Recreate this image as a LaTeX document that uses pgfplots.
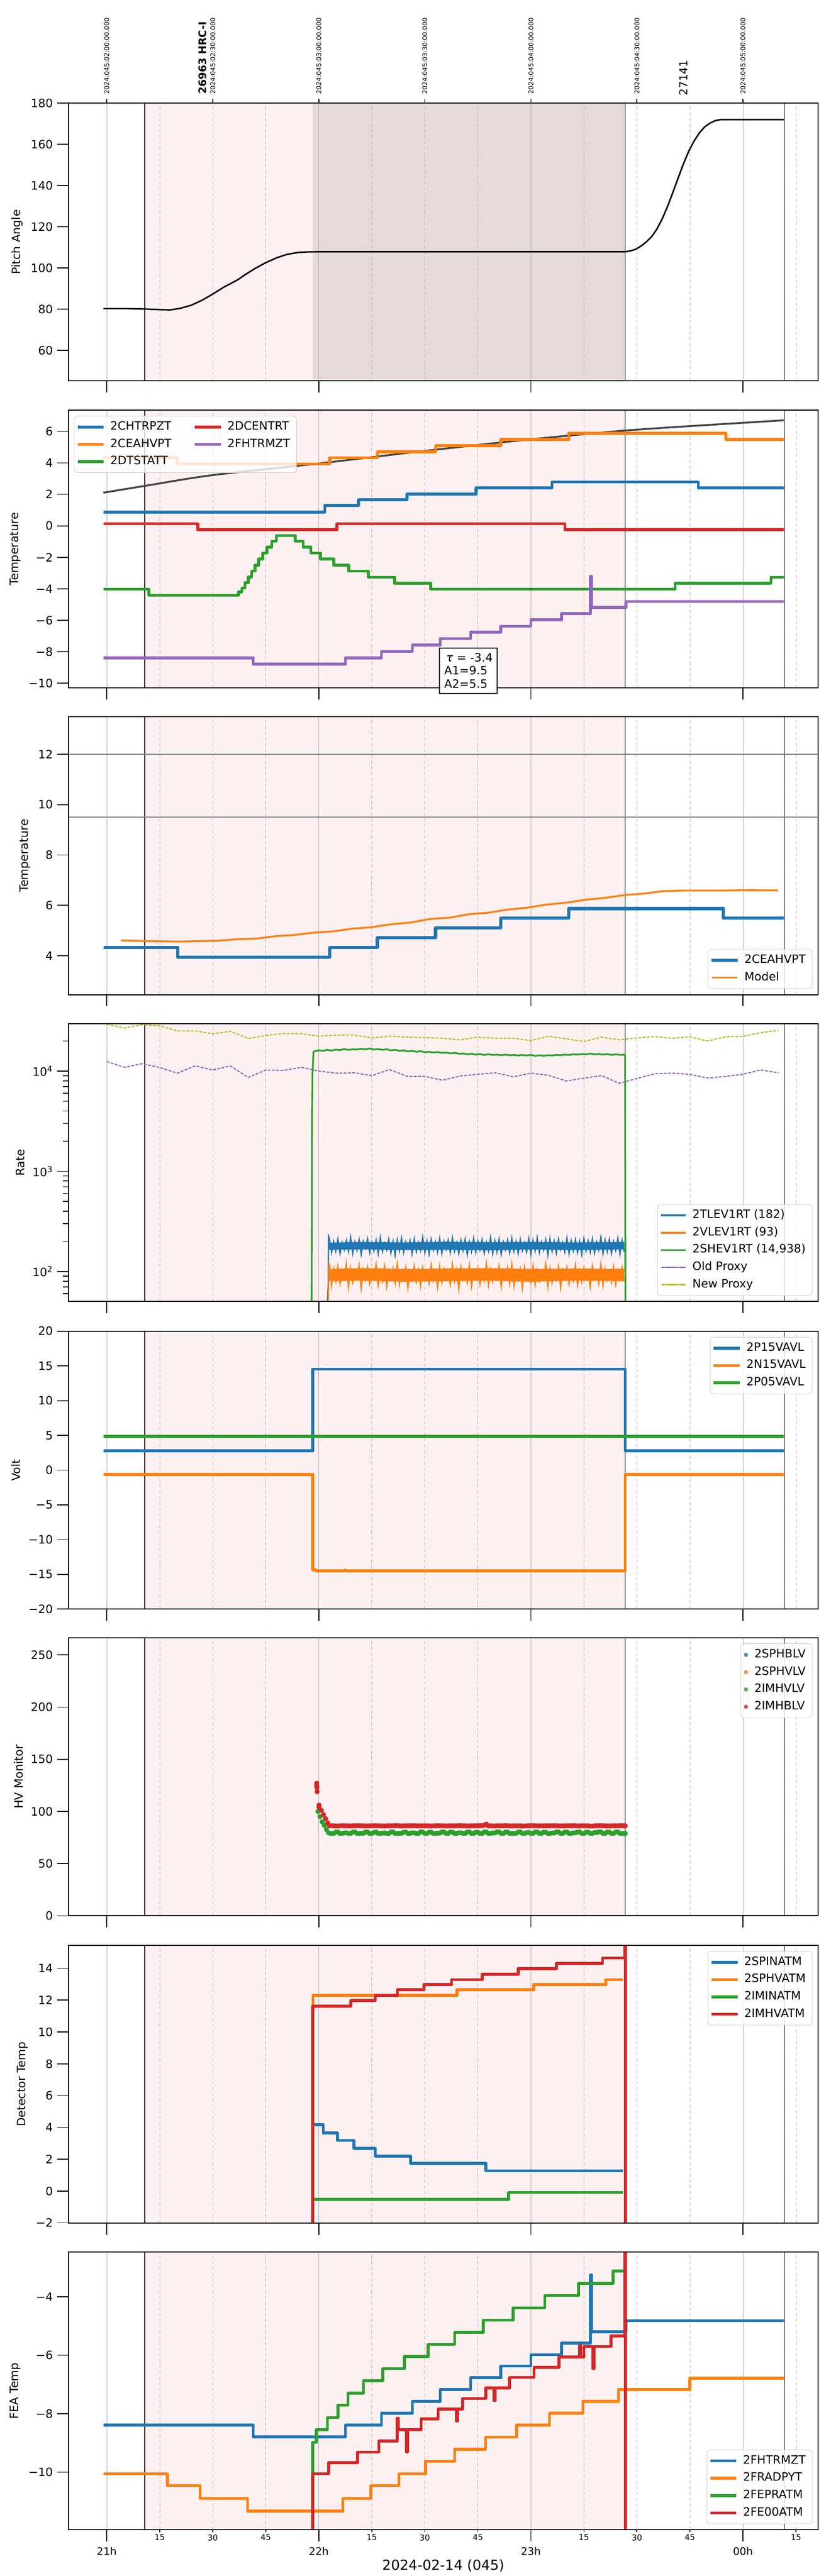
\documentclass[border=0pt]{standalone}
\usepackage{fontspec}
\setmainfont{DejaVu Sans}
\usepackage{pgfplots}
\usepackage{pgfplotstable}
\pgfplotsset{compat=1.18}
\definecolor{tabblue}{HTML}{1F77B4}
\definecolor{taborange}{HTML}{FF7F0E}
\definecolor{tabgreen}{HTML}{2CA02C}
\definecolor{tabred}{HTML}{D62728}
\definecolor{tabpurple}{HTML}{9467BD}
\definecolor{tabolive}{HTML}{BCBD22}
\definecolor{pinkbg}{RGB}{253,240,240}
\definecolor{darkbg}{RGB}{229,217,217}
\definecolor{gridc}{RGB}{176,176,176}
\definecolor{modelgray}{RGB}{68,68,68}

\newcommand{\deco}[3]{%
 \fill[pinkbg] (axis cs:0.179,#1) rectangle (axis cs:2.445,#2);
 #3
 \pgfplotsinvokeforeach{0,1,2,3}{\draw[gridc, line width=0.4pt] (axis cs:##1,#1) -- (axis cs:##1,#2);}
 \pgfplotsinvokeforeach{0.25,0.5,0.75,1.25,1.5,1.75,2.25,2.5,2.75,3.25}{\draw[gridc, line width=0.4pt, dash pattern=on 3pt off 2pt] (axis cs:##1,#1) -- (axis cs:##1,#2);}
 \pgfplotsinvokeforeach{0.179,2.445,3.195}{\draw[black, line width=0.7pt] (axis cs:##1,#1) -- (axis cs:##1,#2);}
}

\pgfplotsset{
 panel/.style={
  scale only axis, width=649.4pt, height=240.8pt, anchor=north west,
  xmin=-0.18, xmax=3.354,
  xtick={0,1,2,3}, xticklabels={},
  tick align=outside, xtick pos=bottom, ytick pos=left,
  major tick length=10pt, minor tick length=5pt,
  tick style={black, line width=0.75pt},
  axis line style={black, line width=0.9pt},
  tick label style={font=\fontsize{10}{12}\selectfont},
  ylabel style={font=\fontsize{10}{12}\selectfont},
  /pgf/number format/assume math mode=true,
  clip mode=individual, axis on top,
  legend cell align=left,
  legend image code/.code={\draw[##1, line cap=rect] (0pt,0pt) -- (20pt,0pt);},
  legend style={draw=black!20, rounded corners=2.5pt, fill=white, fill opacity=0.8, text opacity=1, draw opacity=1,
   font=\fontsize{10}{12}\selectfont, inner xsep=3pt, inner ysep=2pt,
   nodes={inner sep=2.5pt, text height=0.75em, text depth=0.25em},
   /tikz/every odd column/.append style={column sep=3.3pt}},
 },
 stepline/.style={const plot, line join=round, line width=2.5pt},
}
\tikzset{toplab/.style={rotate=90, anchor=west, inner sep=0pt, font=\fontsize{5.6}{6}\selectfont}}

\pgfplotstableread{
x b o
1.05 215 118
1.06 155 72
1.07 200 105
1.08 160 80
1.09 210 112
1.10 150 75
1.11 195 100
1.12 165 85
1.13 205 120
1.14 158 70
1.15 220 108
1.16 152 78
1.17 198 98
1.18 162 88
1.19 208 115
1.20 148 68
1.21 200 104
1.22 170 82
1.23 212 110
1.24 155 76
1.25 196 96
1.26 160 86
1.27 205 117
1.28 150 73
1.29 218 102
1.30 158 80
1.31 192 113
1.32 165 71
1.33 210 99
1.34 152 84
1.35 200 107
1.36 145 77
1.37 207 119
1.38 160 74
1.39 215 101
1.40 155 87
1.41 198 111
1.42 168 69
1.43 204 97
1.44 150 83
1.45 211 114
1.46 157 79
1.47 195 103
1.48 162 72
1.49 220 109
1.50 153 85
1.51 202 95
1.52 149 76
1.53 209 116
1.54 163 81
1.55 197 100
1.56 156 70
1.57 213 112
1.58 151 78
1.59 200 106
1.60 166 88
1.61 206 98
1.62 154 74
1.63 217 118
1.64 159 80
1.65 193 104
1.66 150 67
1.67 205 110
1.68 162 83
1.69 210 96
1.70 147 77
1.71 199 115
1.72 158 71
1.73 214 102
1.74 155 86
1.75 201 108
1.76 164 75
1.77 208 99
1.78 152 81
1.79 196 120
1.80 160 73
1.81 219 105
1.82 150 79
1.83 203 97
1.84 157 84
1.85 211 113
1.86 148 70
1.87 198 101
1.88 165 87
1.89 206 109
1.90 153 76
1.91 215 117
1.92 159 72
1.93 200 98
1.94 151 82
1.95 209 106
1.96 162 68
1.97 194 111
1.98 156 85
1.99 212 100
2.00 149 78
2.01 204 114
2.02 160 74
2.03 218 103
2.04 155 80
2.05 197 96
2.06 163 88
2.07 207 119
2.08 146 71
2.09 213 107
2.10 158 77
2.11 201 99
2.12 152 83
2.13 210 112
2.14 165 69
2.15 195 104
2.16 157 86
2.17 216 110
2.18 150 75
2.19 203 97
2.20 161 81
2.21 208 116
2.22 154 73
2.23 199 102
2.24 148 79
2.25 214 108
2.26 160 84
2.27 202 95
2.28 156 70
2.29 211 113
2.30 153 87
2.31 197 100
2.32 164 76
2.33 220 118
2.34 150 72
2.35 205 105
2.36 158 82
2.37 209 98
2.38 152 78
2.39 200 111
2.40 162 74
2.41 215 103
2.42 149 85
2.43 204 109
2.44 157 80
}\noisetab

\pgfplotstableread{
x r g
1.05 86.2 79.2
1.06 86.3 78.9
1.07 86.2 78.9
1.08 86.1 80.2
1.09 86.0 80.3
1.10 86.2 78.9
1.11 86.3 78.9
1.12 86.2 79.4
1.13 86.2 79.6
1.14 86.1 78.9
1.15 86.1 78.9
1.16 86.2 80.1
1.17 86.2 80.3
1.18 86.3 78.9
1.19 86.3 78.9
1.20 86.2 79.0
1.21 86.2 79.0
1.22 86.1 80.3
1.23 86.1 80.2
1.24 86.2 78.9
1.25 86.2 78.9
1.26 86.3 79.8
1.27 86.3 80.3
1.28 86.2 78.9
1.29 86.2 78.9
1.30 86.1 79.2
1.31 86.0 79.4
1.32 86.2 78.9
1.33 86.2 78.9
1.34 86.2 80.2
1.35 86.2 80.3
1.36 86.3 78.9
1.37 86.3 78.9
1.38 86.2 79.0
1.39 86.1 79.0
1.40 86.2 80.1
1.41 86.2 80.2
1.42 86.2 78.9
1.43 86.2 78.9
1.44 86.3 79.5
1.45 86.3 79.5
1.46 86.2 78.9
1.47 86.1 78.9
1.48 86.2 80.3
1.49 86.2 80.3
1.50 86.2 78.9
1.51 86.2 78.9
1.52 86.1 80.0
1.53 86.0 80.1
1.54 86.2 78.9
1.55 86.2 78.9
1.56 86.3 79.2
1.57 86.3 79.2
1.58 86.2 80.3
1.59 86.2 80.3
1.60 86.1 78.9
1.61 86.1 78.9
1.62 86.2 80.2
1.63 86.2 80.2
1.64 86.2 78.9
1.65 86.2 78.9
1.66 86.3 79.6
1.67 86.3 79.6
1.68 86.2 78.9
1.69 86.2 78.9
1.70 86.1 80.3
1.71 86.1 80.3
1.72 86.2 78.9
1.73 86.2 78.9
1.74 86.2 80.0
1.75 86.2 80.0
1.76 86.3 78.9
1.77 86.3 78.9
1.78 86.8 80.3
1.79 87.8 80.3
1.80 86.2 78.9
1.81 86.2 78.9
1.82 86.1 79.4
1.83 86.1 79.4
1.84 86.2 80.3
1.85 86.2 80.3
1.86 86.2 78.9
1.87 86.2 78.9
1.88 86.3 80.2
1.89 86.3 80.2
1.90 86.1 78.9
1.91 86.1 78.9
1.92 86.2 79.0
1.93 86.2 79.0
1.94 86.2 80.3
1.95 86.2 80.3
1.96 86.0 78.9
1.97 86.0 78.9
1.98 86.2 79.7
1.99 86.2 79.7
2.00 86.3 78.9
2.01 86.3 78.9
2.02 86.2 80.3
2.03 86.2 80.3
2.04 86.1 78.9
2.05 86.1 78.9
2.06 86.2 80.1
2.07 86.2 80.1
2.08 86.2 78.9
2.09 86.2 78.9
2.10 86.3 79.3
2.11 86.3 79.3
2.12 86.2 80.3
2.13 86.2 80.3
2.14 86.1 78.9
2.15 86.1 78.9
2.16 86.2 80.2
2.17 86.2 80.2
2.18 86.2 78.9
2.19 86.2 78.9
2.20 86.3 79.5
2.21 86.3 79.5
2.22 86.1 80.3
2.23 86.1 80.3
2.24 86.2 78.9
2.25 86.2 78.9
2.26 86.2 80.1
2.27 86.2 80.1
2.28 86.0 78.9
2.29 86.0 78.9
2.30 86.2 79.8
2.31 86.2 79.8
2.32 86.3 80.3
2.33 86.3 80.3
2.34 86.2 78.9
2.35 86.2 78.9
2.36 86.1 80.2
2.37 86.1 80.2
2.38 86.2 78.9
2.39 86.2 78.9
2.40 86.2 80.3
2.41 86.2 80.3
2.42 86.3 78.9
2.43 86.3 78.9
2.44 86.2 78.9
2.445 86.2 78.9
}\hvtab

\begin{document}
\begin{tikzpicture}
\path[use as bounding box] (0,0) rectangle (720pt,-2232pt);

% ---------------- Panel 1: Pitch
\begin{axis}[panel, at={(59.4pt,-89.3pt)}, ymin=45.2, ymax=180,
  ytick={60,80,100,120,140,160,180}, ylabel={Pitch Angle}]
\deco{45.2}{180}{\fill[darkbg] (axis cs:0.971,45.2) rectangle (axis cs:2.445,180);}
\addplot[black, line width=1.3pt, line join=round] coordinates {(-0.016,80.3)(0.10,80.3)(0.18,80.1)(0.25,79.8)(0.30,79.7)(0.346,80.4)(0.40,82.0)(0.45,84.4)(0.496,87.1)(0.55,90.6)(0.60,93.3)(0.621,94.5)(0.65,96.6)(0.70,99.8)(0.746,102.4)(0.80,104.9)(0.85,106.6)(0.90,107.5)(0.95,107.8)(1.00,107.9)(2.445,107.9)(2.47,108.3)(2.495,109.1)(2.52,110.7)(2.545,112.7)(2.57,115.3)(2.595,119.0)(2.62,124.0)(2.645,130.0)(2.67,136.8)(2.695,143.8)(2.72,150.7)(2.745,156.8)(2.77,161.7)(2.795,165.6)(2.82,168.5)(2.845,170.3)(2.87,171.5)(2.895,172.0)(3.195,172.0)};
\pgfplotsinvokeforeach{0,0.5,1,1.5,2,2.5,3}{\draw[black, line width=0.75pt] (axis cs:#1,180) -- ++(0pt,3.4pt);}
\node[toplab] at ([yshift=7.5pt]axis cs:0,180) {2024:045:02:00:00.000};
\node[toplab] at ([yshift=7.5pt]axis cs:0.5,180) {2024:045:02:30:00.000};
\node[toplab] at ([yshift=7.5pt]axis cs:1,180) {2024:045:03:00:00.000};
\node[toplab] at ([yshift=7.5pt]axis cs:1.5,180) {2024:045:03:30:00.000};
\node[toplab] at ([yshift=7.5pt]axis cs:2,180) {2024:045:04:00:00.000};
\node[toplab] at ([yshift=7.5pt]axis cs:2.5,180) {2024:045:04:30:00.000};
\node[toplab] at ([yshift=7.5pt]axis cs:3,180) {2024:045:05:00:00.000};
\node[rotate=90, anchor=west, inner sep=0pt, font=\bfseries\fontsize{9}{10}\selectfont] at ([yshift=7.5pt]axis cs:0.451,180) {26963 HRC-I};
\node[rotate=90, anchor=west, inner sep=0pt, font=\fontsize{9.5}{10}\selectfont] at ([yshift=6.5pt]axis cs:2.72,180) {27141};
\end{axis}

% ---------------- Panel 2: Temperature
\begin{axis}[panel, at={(59.4pt,-355.3pt)}, ymin=-10.3, ymax=7.36,
  ytick={-10,-8,-6,-4,-2,0,2,4,6}, yticklabels={−10,−8,−6,−4,−2,0,2,4,6},
  ylabel={Temperature}, legend columns=2,
  legend style={at={(0,1)}, anchor=north west, xshift=4.7pt, yshift=-5pt,
   /tikz/every even column/.append style={column sep=17.7pt}}]
\deco{-10.3}{7.36}{}
\addplot[modelgray, line width=1.6pt, smooth, forget plot] coordinates {(-0.016,2.11)(0.179,2.54)(0.496,3.22)(0.996,3.96)(1.496,4.76)(2.0,5.50)(2.495,6.11)(3.195,6.71)};
\addplot[tabblue, stepline, forget plot] coordinates {(-0.016,0.88)(1.028,1.31)(1.188,1.66)(1.416,2.03)(1.741,2.41)(2.100,2.79)(2.790,2.41)(3.195,2.41)};
\addplot[taborange, stepline, forget plot] coordinates {(-0.016,4.33)(0.334,3.94)(1.051,4.33)(1.276,4.70)(1.551,5.10)(1.858,5.49)(2.178,5.89)(2.920,5.49)(3.195,5.49)};
\addplot[tabgreen, stepline, forget plot] coordinates {(-0.016,-4.02)(0.199,-4.41)(0.621,-4.2)(0.637,-3.95)(0.652,-3.6)(0.667,-3.25)(0.683,-2.87)(0.699,-2.5)(0.716,-2.11)(0.735,-1.73)(0.755,-1.35)(0.778,-0.98)(0.800,-0.61)(0.888,-0.98)(0.926,-1.35)(0.963,-1.73)(1.008,-2.11)(1.071,-2.50)(1.141,-2.87)(1.233,-3.26)(1.358,-3.64)(1.528,-4.02)(2.680,-3.64)(3.132,-3.26)(3.195,-3.26)};
\addplot[tabred, stepline, forget plot] coordinates {(-0.016,0.14)(0.429,-0.24)(1.086,0.14)(2.160,-0.24)(3.195,-0.24)};
\addplot[tabpurple, stepline, forget plot] coordinates {(-0.016,-8.39)(0.691,-8.79)(1.126,-8.39)(1.296,-7.98)(1.441,-7.58)(1.573,-7.16)(1.716,-6.76)(1.858,-6.37)(2.000,-5.97)(2.145,-5.58)(2.280,-3.2)(2.287,-5.19)(2.449,-4.81)(3.195,-4.81)};
\addlegendimage{tabblue, line width=2.5pt}\addlegendentry{2CHTRPZT}
\addlegendimage{tabred, line width=2.5pt}\addlegendentry{2DCENTRT}
\addlegendimage{taborange, line width=2.5pt}\addlegendentry{2CEAHVPT}
\addlegendimage{tabpurple, line width=2.5pt}\addlegendentry{2FHTRMZT}
\addlegendimage{tabgreen, line width=2.5pt}\addlegendentry{2DTSTATT}
\coordinate (tbox) at (axis cs:1.567,-7.72);
\end{axis}
\node[draw, line width=1pt, fill=white, anchor=north west, align=left, inner xsep=4pt, inner ysep=4.5pt,
  font=\fontsize{10}{11.4}\selectfont] at (tbox) {\,\textit{τ} = -3.4\\A1=9.5\\A2=5.5};

% ---------------- Panel 3: Temperature (model)
\begin{axis}[panel, at={(59.4pt,-621.0pt)}, ymin=2.45, ymax=13.49,
  ytick={4,6,8,10,12}, ylabel={Temperature},
  legend style={at={(1,0)}, anchor=south east, xshift=-5pt, yshift=5pt}]
\deco{2.45}{13.49}{}
\draw[gray, line width=0.9pt] (axis cs:-0.18,12) -- (axis cs:3.354,12);
\draw[gray, line width=0.9pt] (axis cs:-0.18,9.5) -- (axis cs:3.354,9.5);
\addplot[tabblue, const plot, line join=round, line width=2.8pt] coordinates {(-0.016,4.33)(0.334,3.94)(1.051,4.33)(1.276,4.72)(1.551,5.10)(1.858,5.49)(2.178,5.87)(2.908,5.49)(3.195,5.49)};
\addlegendentry{2CEAHVPT}
\addplot[taborange, line width=1.6pt, line join=round] coordinates {(0.066,4.606)(0.184,4.575)(0.346,4.559)(0.521,4.591)(0.608,4.646)(0.708,4.677)(0.796,4.772)(0.883,4.819)(0.983,4.921)(1.066,4.961)(1.158,5.071)(1.246,5.126)(1.346,5.252)(1.433,5.315)(1.521,5.449)(1.621,5.512)(1.708,5.646)(1.796,5.701)(1.890,5.827)(1.983,5.906)(2.071,6.024)(2.165,6.102)(2.258,6.220)(2.345,6.291)(2.445,6.409)(2.533,6.465)(2.620,6.559)(2.720,6.583)(2.895,6.583)(2.995,6.598)(3.165,6.591)};
\addlegendentry{Model}
\end{axis}

% ---------------- Panel 4: Rate
\begin{axis}[panel, at={(59.4pt,-887.0pt)}, ymode=log, ymin=50, ymax=29700,
  ytick={100,1000,10000}, yticklabels={10\textsuperscript{2},10\textsuperscript{3},10\textsuperscript{4}},
  minor ytick={60,70,80,90,200,300,400,500,600,700,800,900,2000,3000,4000,5000,6000,7000,8000,9000,20000},
  ylabel={Rate},
  legend style={at={(1,0)}, anchor=south east, xshift=-5pt, yshift=5pt}]
\deco{50}{29700}{}
\addlegendimage{tabblue, line width=1.6pt}\addlegendentry{2TLEV1RT (182)}
\addlegendimage{taborange, line width=1.6pt}\addlegendentry{2VLEV1RT (93)}
\addlegendimage{tabgreen, line width=1.6pt}\addlegendentry{2SHEV1RT (14,938)}
\addplot[tabblue, line width=1.1pt, forget plot] coordinates {(1.040,40)(1.042,60)(1.044,70)(1.046,226)(1.05,215)};
\addplot[fill=tabblue, draw=none, forget plot] coordinates {(1.047,168)(1.05,194)(1.20,197)(1.40,195)(1.60,198)(1.80,196)(2.00,197)(2.20,195)(2.44,197)(2.44,166)(2.20,164)(2.00,166)(1.80,163)(1.60,165)(1.40,164)(1.20,166)(1.05,165)} -- cycle;
\addplot[tabblue, line width=1.1pt, forget plot] table[x=x, y=b] {\noisetab};
\addplot[taborange, line width=1.1pt, forget plot] coordinates {(1.044,40)(1.046,80)(1.048,120)(1.05,118)};
\addplot[fill=taborange, draw=none, forget plot] coordinates {(1.049,80)(1.05,106)(1.20,108)(1.40,106)(1.60,107)(1.80,108)(2.00,106)(2.20,107)(2.44,106)(2.44,80)(2.20,81)(2.00,79)(1.80,81)(1.60,80)(1.40,79)(1.20,81)(1.05,80)} -- cycle;
\addplot[taborange, line width=1.1pt, forget plot] table[x=x, y=o] {\noisetab};
\addplot[tabgreen, line width=1.5pt, line join=round, forget plot] coordinates {(0.966,40)(0.968,3000)(0.970,9000)(0.975,15500)(0.98,15800)(1.00,16100)(1.02,15900)(1.04,16300)(1.06,16000)(1.08,16400)(1.10,16200)(1.12,16600)(1.14,16300)(1.16,16500)(1.18,16400)(1.20,16700)(1.22,16500)(1.24,16800)(1.26,16400)(1.28,16600)(1.30,16300)(1.32,16500)(1.34,16100)(1.36,16300)(1.38,15900)(1.40,16100)(1.42,15700)(1.44,15900)(1.46,15600)(1.48,15800)(1.50,15400)(1.52,15600)(1.54,15300)(1.56,15500)(1.58,15200)(1.60,15300)(1.62,15000)(1.64,15200)(1.66,14900)(1.68,15000)(1.70,14700)(1.72,14900)(1.74,14600)(1.76,14800)(1.78,14500)(1.80,14700)(1.82,14500)(1.84,14600)(1.86,14400)(1.88,14600)(1.90,14400)(1.92,14500)(1.94,14300)(1.96,14500)(1.98,14300)(2.00,14500)(2.02,14200)(2.04,14400)(2.06,14200)(2.08,14400)(2.10,14300)(2.12,14500)(2.14,14400)(2.16,14600)(2.18,14500)(2.20,14700)(2.22,14600)(2.24,14800)(2.26,14700)(2.28,14900)(2.30,14700)(2.32,14800)(2.34,14600)(2.36,14800)(2.38,14500)(2.40,14700)(2.42,14500)(2.44,14600)(2.444,14500)(2.446,40)};
\addplot[tabpurple, line width=1pt, dash pattern=on 2.5pt off 1.2pt] coordinates {(0.000,12450)(0.083,10900)(0.167,11860)(0.250,10860)(0.333,9530)(0.417,11300)(0.500,10250)(0.583,11250)(0.667,8650)(0.750,10250)(0.833,10140)(0.917,10900)(1.000,10000)(1.083,9530)(1.167,9620)(1.250,9000)(1.333,10350)(1.417,8850)(1.500,8850)(1.583,8110)(1.667,8930)(1.750,9290)(1.833,9620)(1.917,8770)(2.000,9530)(2.083,9080)(2.167,7960)(2.250,8510)(2.333,9000)(2.417,7550)(2.500,8430)(2.583,9400)(2.667,9530)(2.750,9290)(2.833,8510)(2.917,8850)(3.000,9290)(3.083,10250)(3.167,9620)};
\addlegendentry{Old Proxy}
\addplot[tabolive, line width=1pt, dash pattern=on 2.5pt off 1.2pt] coordinates {(0.000,29400)(0.083,26900)(0.167,29100)(0.250,28250)(0.333,25150)(0.417,25150)(0.500,23600)(0.583,24950)(0.667,21150)(0.750,22600)(0.833,23750)(0.917,23600)(1.000,22300)(1.083,22850)(1.167,22850)(1.250,21450)(1.333,22300)(1.417,21800)(1.500,21550)(1.583,21250)(1.667,20500)(1.750,21800)(1.833,21250)(1.917,21250)(2.000,20150)(2.083,22300)(2.167,20950)(2.250,19730)(2.333,21800)(2.417,20500)(2.500,21450)(2.583,22100)(2.667,21250)(2.750,22000)(2.833,19950)(2.917,22000)(3.000,22200)(3.083,24200)(3.167,25400)};
\addlegendentry{New Proxy}
\end{axis}

% ---------------- Panel 5: Volt
\begin{axis}[panel, at={(59.4pt,-1153.4pt)}, ymin=-20, ymax=20,
  ytick={-20,-15,-10,-5,0,5,10,15,20}, yticklabels={−20,−15,−10,−5,0,5,10,15,20},
  ylabel={Volt},
  legend style={at={(1,1)}, anchor=north east, xshift=-5pt, yshift=-5pt}]
\deco{-20}{20}{}
\addplot[tabblue, stepline] coordinates {(-0.016,2.77)(0.971,14.54)(2.445,2.77)(3.195,2.77)};
\addlegendentry{2P15VAVL}
\addplot[taborange, stepline] coordinates {(-0.016,-0.64)(0.971,-14.35)(0.985,-14.5)(1.12,-14.4)(1.125,-14.5)(2.445,-0.64)(3.195,-0.64)};
\addlegendentry{2N15VAVL}
\addplot[tabgreen, stepline] coordinates {(-0.016,4.85)(3.195,4.85)};
\addlegendentry{2P05VAVL}
\end{axis}

% ---------------- Panel 6: HV Monitor
\begin{axis}[panel, at={(59.4pt,-1419.1pt)}, ymin=0, ymax=266.4,
  ytick={0,50,100,150,200,250}, ylabel={HV Monitor},
  legend image code/.code={\draw[#1] plot coordinates {(8pt,0pt)};},
  legend style={at={(1,1)}, anchor=north east, xshift=-5pt, yshift=-5pt}]
\deco{0}{266.4}{}
\addlegendimage{only marks, mark=*, mark size=1.5pt, tabblue}\addlegendentry{2SPHBLV}
\addlegendimage{only marks, mark=*, mark size=1.5pt, taborange}\addlegendentry{2SPHVLV}
\addlegendimage{only marks, mark=*, mark size=1.5pt, tabgreen}\addlegendentry{2IMHVLV}
\addlegendimage{only marks, mark=*, mark size=1.5pt, tabred}\addlegendentry{2IMHBLV}
\addplot[only marks, mark=*, mark size=2pt, tabgreen, forget plot] coordinates {(0.996,100)(1.006,95)(1.016,90)(1.026,86.5)(1.036,82.5)(1.046,79.5)};
\addplot[only marks, mark=*, mark size=2pt, tabgreen, forget plot] table[x=x, y=g] {\hvtab};
\addplot[only marks, mark=*, mark size=2pt, tabred, forget plot] coordinates {(0.990,127)(0.990,125)(0.991,123)(0.992,119)(1.001,106)(1.001,104)(1.012,101)(1.022,97)(1.032,93)(1.042,89)};
\addplot[only marks, mark=*, mark size=2pt, tabred, forget plot] table[x=x, y=r] {\hvtab};
\end{axis}

% ---------------- Panel 7: Detector Temp
\begin{axis}[panel, at={(59.4pt,-1685.5pt)}, ymin=-2.02, ymax=15.45,
  ytick={-2,0,2,4,6,8,10,12,14}, yticklabels={−2,0,2,4,6,8,10,12,14},
  ylabel={Detector Temp},
  legend style={at={(1,1)}, anchor=north east, xshift=-5pt, yshift=-5pt}]
\deco{-2.02}{15.45}{}
\addplot[tabblue, stepline] coordinates {(0.972,4.17)(1.021,3.65)(1.088,3.18)(1.166,2.68)(1.266,2.20)(1.433,1.74)(1.788,1.27)(2.433,1.27)};
\addlegendentry{2SPINATM}
\addplot[taborange, stepline] coordinates {(0.971,11.6)(0.973,12.31)(1.651,12.65)(2.013,12.98)(2.353,13.29)(2.433,13.29)};
\addlegendentry{2SPHVATM}
\addplot[tabgreen, stepline] coordinates {(0.972,-0.53)(1.895,-0.08)(2.433,-0.08)};
\addlegendentry{2IMINATM}
\addplot[tabred, stepline] coordinates {(0.969,-5)(0.971,11.63)(1.151,11.98)(1.266,12.31)(1.371,12.65)(1.496,12.98)(1.626,13.29)(1.771,13.63)(1.941,13.98)(2.120,14.31)(2.338,14.65)(2.443,20)(2.446,-5)};
\addlegendentry{2IMHVATM}
\end{axis}

% ---------------- Panel 8: FEA Temp
\begin{axis}[panel, at={(59.4pt,-1951.2pt)}, ymin=-11.97, ymax=-2.47,
  ytick={-10,-8,-6,-4}, yticklabels={−10,−8,−6,−4},
  ylabel={FEA Temp},
  xticklabels={21h,22h,23h,00h},
  xticklabel style={font=\fontsize{9}{10}\selectfont, yshift=-1.6pt},
  extra x ticks={0.25,0.5,0.75,1.25,1.5,1.75,2.25,2.5,2.75,3.25},
  extra x tick labels={15,30,45,15,30,45,15,30,45,15},
  extra x tick style={major tick length=2pt, xticklabel style={font=\fontsize{7}{8}\selectfont, yshift=3.1pt}},
  legend style={at={(1,0)}, anchor=south east, xshift=-5pt, yshift=5pt}]
\deco{-11.97}{-2.47}{}
\addplot[tabblue, stepline] coordinates {(-0.016,-8.39)(0.691,-8.79)(1.126,-8.39)(1.296,-7.98)(1.441,-7.58)(1.573,-7.17)(1.716,-6.77)(1.858,-6.37)(2.000,-5.98)(2.145,-5.59)(2.280,-3.25)(2.287,-5.20)(2.449,-4.82)(3.195,-4.82)};
\addlegendentry{2FHTRMZT}
\addplot[taborange, stepline] coordinates {(-0.016,-10.05)(0.286,-10.46)(0.441,-10.90)(0.664,-11.33)(1.113,-10.90)(1.246,-10.46)(1.378,-10.05)(1.503,-9.63)(1.641,-9.21)(1.786,-8.80)(1.933,-8.39)(2.088,-7.98)(2.245,-7.58)(2.413,-7.17)(2.750,-6.78)(3.195,-6.78)};
\addlegendentry{2FRADPYT}
\addplot[tabgreen, stepline] coordinates {(0.969,-10.1)(0.971,-8.98)(0.988,-8.55)(1.041,-8.13)(1.091,-7.71)(1.138,-7.29)(1.211,-6.87)(1.301,-6.46)(1.403,-6.04)(1.516,-5.63)(1.641,-5.22)(1.776,-4.80)(1.916,-4.38)(2.066,-3.96)(2.225,-3.54)(2.388,-3.12)(2.440,-3.12)};
\addlegendentry{2FEPRATM}
\addplot[tabred, stepline] coordinates {(0.969,-13)(0.971,-10.05)(1.046,-9.67)(1.183,-9.31)(1.283,-8.93)(1.370,-8.15)(1.376,-8.55)(1.413,-9.30)(1.419,-8.55)(1.483,-8.18)(1.563,-7.84)(1.648,-8.25)(1.654,-7.84)(1.678,-7.48)(1.788,-7.12)(1.825,-7.55)(1.831,-7.12)(1.900,-6.76)(2.015,-6.41)(2.133,-6.06)(2.230,-5.67)(2.236,-6.06)(2.250,-5.70)(2.292,-6.45)(2.298,-5.70)(2.378,-5.34)(2.443,-2)(2.446,-13)};
\addlegendentry{2FE00ATM}
\coordinate (xlab) at (axis cs:1.587,-11.97);
\end{axis}
\node[font=\fontsize{12}{14}\selectfont, anchor=center] at ([yshift=-31pt]xlab) {2024-02-14 (045)};
\end{tikzpicture}
\end{document}
